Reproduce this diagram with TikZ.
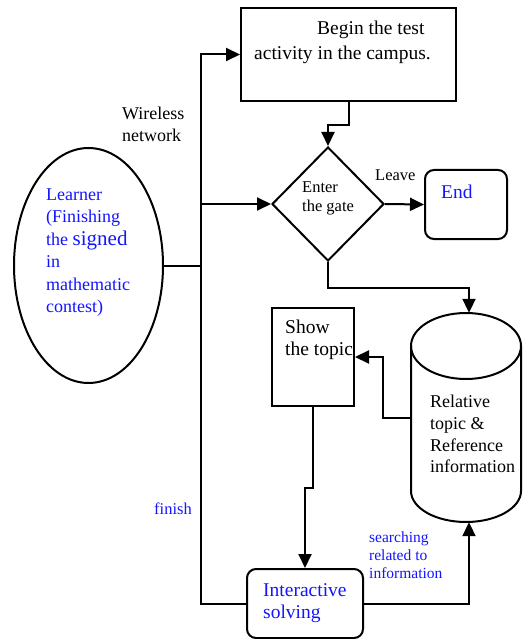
\documentclass[tikz,border=0pt]{standalone}
\usepackage{fontspec}
\setmainfont{Liberation Serif}
\usetikzlibrary{shapes.geometric,arrows.meta}
\definecolor{txtblue}{RGB}{20,20,255}
\begin{document}
\begin{tikzpicture}[x=1pt,y=-1pt,
  shapeline/.style={draw=black,line width=2pt},
  flow/.style={line width=2pt},
  arr/.style={flow,-{Triangle[length=14pt,width=13pt]}},
  lbl/.style={inner sep=0pt,anchor=base west,text=black},
  big/.style={font=\fontsize{19.5}{23}\selectfont},
  mid/.style={font=\fontsize{18}{21}\selectfont},
  small/.style={font=\fontsize{16.5}{19}\selectfont},
  tiny/.style={font=\fontsize{15.5}{18}\selectfont},
  bluetext/.style={text=txtblue}
]
\useasboundingbox (0,0) rectangle (522,639);

% shapes
\node[shapeline,ellipse,minimum width=149pt,minimum height=235pt,inner sep=0pt] (learner) at (88.5,265.5) {};
\node[shapeline,rectangle,minimum width=215pt,minimum height=93pt,inner sep=0pt] (begin) at (348.5,54.5) {};
\node[shapeline,diamond,minimum width=112pt,minimum height=114pt,inner sep=0pt] (gate) at (328,204) {};
\node[shapeline,rectangle,rounded corners=9pt,minimum width=82pt,minimum height=69pt,inner sep=0pt] (end) at (466,204.5) {};
\node[shapeline,rectangle,minimum width=82pt,minimum height=98pt,inner sep=0pt] (show) at (313,357) {};
\node[shapeline,rectangle,rounded corners=9pt,minimum width=116pt,minimum height=69pt,inner sep=0pt] (solve) at (305,603.5) {};
\node[inner sep=0pt,minimum width=110pt,minimum height=209pt] (cyl) at (466,417.5) {};
\draw[shapeline] (466,346) ellipse [x radius=55pt,y radius=33pt];
\draw[shapeline] (411,346) -- (411,491) arc[start angle=180,end angle=360,x radius=55pt,y radius=31pt] -- (521,346);

% texts
\node[lbl,big] (b1) at (317,35) {Begin the test};
\node[lbl,big] (b2) at (254,60) {activity in the campus.};
\node[lbl,small] (g1) at (302,192) {Enter};
\node[lbl,small] (g2) at (302,211) {the gate};
\node[lbl,small] (lv) at (375,181) {Leave};
\node[lbl,big,bluetext] (e1) at (441,198) {End};
\node[lbl,mid] (w1) at (122,120) {Wireless};
\node[lbl,mid] (w2) at (122,142) {network};
\node[lbl,mid,bluetext] (l1) at (46,200) {Learner};
\node[lbl,mid,bluetext] (l2) at (46,222.5) {(Finishing};
\node[lbl,mid,bluetext] (l3) at (46,245) {the {\fontsize{21}{23}\selectfont signed}};
\node[lbl,mid,bluetext] (l4) at (46,267.5) {in};
\node[lbl,mid,bluetext] (l5) at (46,290) {mathematic};
\node[lbl,mid,bluetext] (l6) at (46,312.5) {contest)};
\node[lbl,big] (s1) at (285,333) {Show};
\node[lbl,big] (s2) at (285,355) {the topic};
\node[lbl,mid] (c1) at (430,407) {Relative};
\node[lbl,mid] (c2) at (430,429) {topic \&};
\node[lbl,mid] (c3) at (430,451) {Reference};
\node[lbl,mid] (c4) at (430,472) {information};
\node[lbl,tiny,bluetext] (q1) at (369,542) {searching};
\node[lbl,tiny,bluetext] (q2) at (369,560) {related to};
\node[lbl,tiny,bluetext] (q3) at (369,578) {information};
\node[lbl,small,bluetext] (fn) at (154,514) {finish};
\node[lbl,big,bluetext] (i1) at (263,596) {Interactive};
\node[lbl,big,bluetext] (i2) at (263,618) {solving};

% connectors
\coordinate (j) at (201,265.5);
\draw[flow] (learner.east) -- (j);
\draw[arr] (j) |- (begin.west);
\draw[arr] (j) |- (gate.west);
\draw[flow] (j) |- (solve.west);
\draw[arr] (begin.south) -- ++(0,23) -| (gate.north);
\draw[arr] (gate.east) -- (end.west);
\draw[arr] (gate.south) -- ++(0,26) -| ([xshift=3pt]cyl.north);
\draw[arr] (cyl.west) -- ++(-28,0) |- (show.east);
\draw[arr] (show.south) -- ++(0,81) -| (solve.north);
\draw[arr] (solve.east) -| ([xshift=3pt]cyl.south);
\end{tikzpicture}
\end{document}
